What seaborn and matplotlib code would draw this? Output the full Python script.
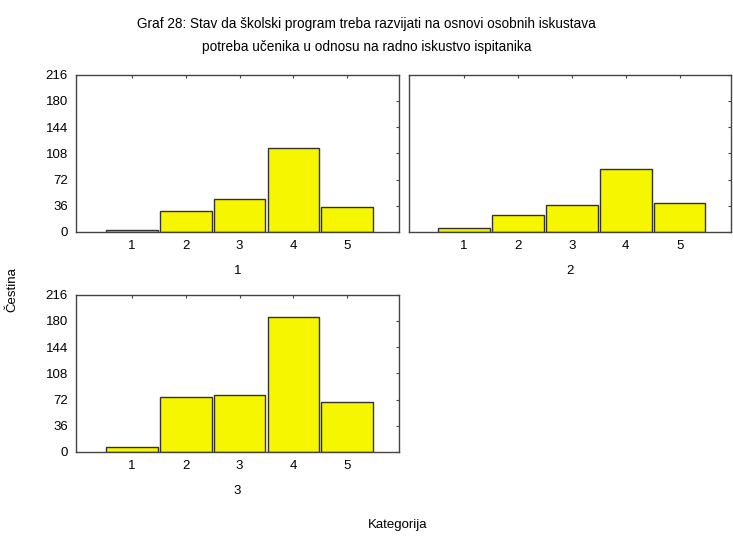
import pandas as pd
import matplotlib
matplotlib.use('Agg')
import matplotlib.pyplot as plt
import seaborn as sns

# data
categories = ['1', '2', '3', '4', '5']
groups = ['1', '2', '3']
counts_1 = [2, 29, 45, 116, 34]
counts_2 = [6, 23, 37, 86, 40]
counts_3 = [7, 75, 78, 186, 68]
y_ticks = [0, 36, 72, 108, 144, 180, 216]

df = pd.DataFrame({
    'grupa': [g for g in groups for _ in categories],
    'kategorija': categories * len(groups),
    'cestina': counts_1 + counts_2 + counts_3,
})

sns.set_style('white')
plt.rcParams['font.family'] = ['Liberation Sans', 'DejaVu Sans']
plt.rcParams['text.color'] = 'black'
plt.rcParams['axes.labelcolor'] = 'black'
plt.rcParams['xtick.labelcolor'] = 'black'
plt.rcParams['ytick.labelcolor'] = 'black'

fig, axes = plt.subplots(2, 2, figsize=(7.33, 5.38), dpi=100, sharey=True)
fig.subplots_adjust(left=0.104, right=0.997, top=0.861, bottom=0.160,
                    wspace=0.031, hspace=0.40)

panels = [axes[0, 0], axes[0, 1], axes[1, 0]]
for ax, g in zip(panels, groups):
    sub = df[df['grupa'] == g]
    sns.barplot(data=sub, x='kategorija', y='cestina', order=categories,
                color='#f6f600', saturation=1, width=0.96,
                edgecolor='#333333', linewidth=1.0, ax=ax)
    ax.set_xlim(-1.03, 4.95)
    ax.set_ylim(0, 216)
    ax.set_yticks(y_ticks)
    ax.set_xlabel(g, fontsize=9.5, labelpad=9)
    ax.set_ylabel('')
    ax.tick_params(direction='in', length=2.5, width=0.8, color='#444444',
                   top=True, right=True, labelsize=9.5, pad=6)
    for s in ax.spines.values():
        s.set_visible(True)
        s.set_color('#444444')
        s.set_linewidth(1.0)

axes[0, 1].tick_params(labelleft=False)
axes[1, 1].remove()

fig.text(0.5, 0.955, 'Graf 28: Stav da školski program treba razvijati na osnovi osobnih iskustava',
         ha='center', va='center', fontsize=9.8)
fig.text(0.5, 0.912, 'potreba učenika u odnosu na radno iskustvo ispitanika',
         ha='center', va='center', fontsize=9.8)
fig.text(0.017, 0.462, 'Čestina', rotation=90, ha='center', va='center', fontsize=9.5)
fig.text(0.542, 0.025, 'Kategorija', ha='center', va='center', fontsize=9.5)

fig.savefig('out.png', dpi=100)
